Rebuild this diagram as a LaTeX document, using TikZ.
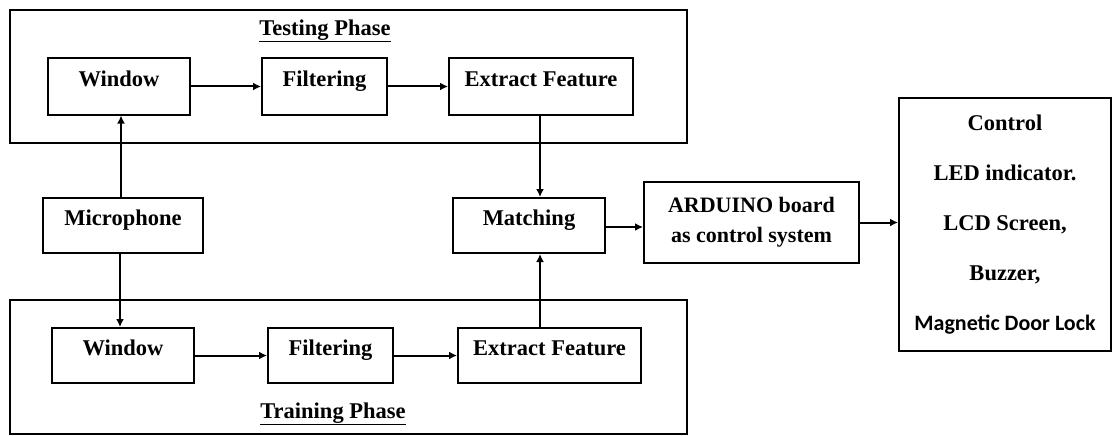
\documentclass[tikz,border=0pt]{standalone}
\usepackage{fontspec}
\setmainfont{Liberation Serif}
\newfontfamily\calfont{Carlito}
\usetikzlibrary{arrows.meta,calc}
\begin{document}
\begin{tikzpicture}[x=1pt,y=-1pt,
  box/.style={draw=black,line width=2pt,inner sep=0pt,minimum height=56pt,
    text height=16pt,text depth=17pt,
    font=\fontsize{22.5}{26}\selectfont\bfseries,align=center},
  frame/.style={draw=black,line width=2pt,inner sep=0pt,minimum width=677pt},
  lbl/.style={font=\fontsize{22.5}{26}\selectfont\bfseries,inner sep=0pt},
  arr/.style={line width=2pt,-{Latex[length=8pt,width=8pt]}}]
\useasboundingbox (0,0) rectangle (1114,436);
% phase frames
\node[frame,minimum height=133pt] (tph) at (348.5,76.5) {};
\node[frame,minimum height=134pt] (bph) at (348.5,367) {};
\node[lbl] (tlab) at (325,31) {\underline{Testing Phase}};
\node[lbl] (blab) at (333,414) {\underline{Training Phase}};
% testing boxes
\node[box,minimum width=142pt] (tw) at (119,86.5) {Window};
\node[box,minimum width=125pt] (tf) at (324.5,86.5) {Filtering};
\node[box,minimum width=184pt] (te) at (541,86.5) {Extract Feature};
% middle
\node[box,minimum width=160pt,minimum height=55pt] (mic) at (123,225.5) {Microphone};
\node[box,minimum width=152pt,minimum height=55pt] (match) at (529,225.5) {Matching};
\node[box,minimum width=215pt,minimum height=81pt,text height=,text depth=,font=\fontsize{22}{30}\selectfont\bfseries] (ard) at (751.5,222.5) {ARDUINO board\\as control system};
\node[box,minimum width=212pt,minimum height=253pt,text height=,text depth=,font=\fontsize{22.5}{50}\selectfont\bfseries] (ctrl) at (1005,224.5) {Control\\LED indicator.\\LCD Screen,\\Buzzer,\\{\calfont\fontsize{22}{50}\selectfont Magnetic Door Lock}};
% training boxes
\node[box,minimum width=142pt,minimum height=55pt] (bw) at (123,355.5) {Window};
\node[box,minimum width=125pt,minimum height=55pt] (bf) at (330.5,355.5) {Filtering};
\node[box,minimum width=183pt,minimum height=55pt] (be) at (549.5,355.5) {Extract Feature};
% connector anchor points
\coordinate (micT) at ($(mic.north)+(-2,0)$);
\coordinate (micB) at ($(mic.south)+(-3,0)$);
\coordinate (teB) at ($(te.south)+(-1,0)$);
\coordinate (matE) at ($(match.east)+(0,1.5)$);
% connectors
\draw[arr] (tw) -- (tf);
\draw[arr] (tf) -- (te);
\draw[arr] (micT) -- (micT |- tw.south);
\draw[arr] (micB) -- (micB |- bw.north);
\draw[arr] (teB) -- (teB |- match.north);
\draw[arr] (teB |- be.north) -- (teB |- match.south);
\draw[arr] (matE) -- (matE -| ard.west);
\draw[arr] (ard.east) -- (ard.east -| ctrl.west);
\draw[arr] (bw) -- (bf);
\draw[arr] (bf) -- (be);
\end{tikzpicture}
\end{document}
